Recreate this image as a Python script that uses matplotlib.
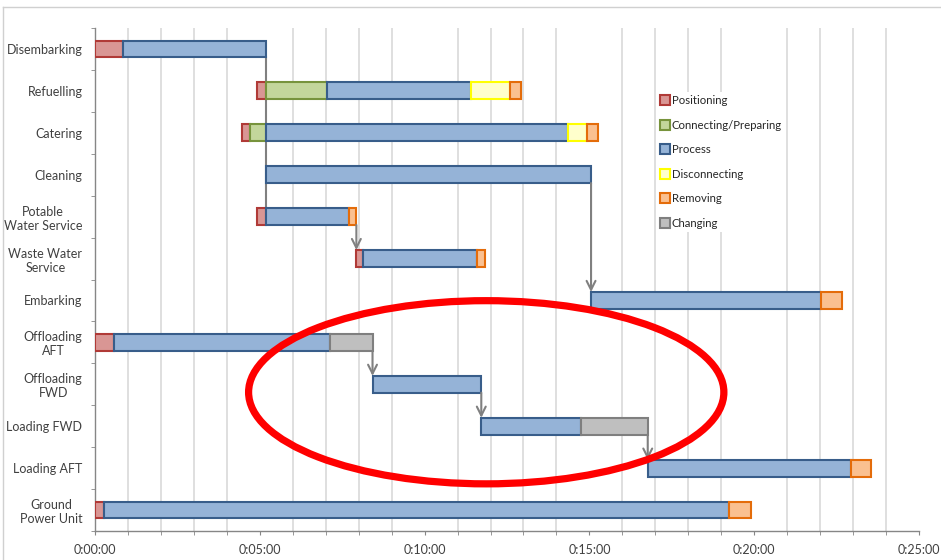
import numpy as np
import matplotlib
matplotlib.use("Agg")
import matplotlib.pyplot as plt
from matplotlib.patches import Ellipse
from matplotlib.lines import Line2D

plt.rcParams['font.family'] = ['Lato', 'DejaVu Sans']

# ---------------- data (minutes) ----------------
categories = ["Disembarking", "Refuelling", "Catering", "Cleaning",
              "Potable\nWater Service", "Waste Water\nService", "Embarking",
              "Offloading\nAFT", "Offloading\nFWD", "Loading FWD",
              "Loading AFT", "Ground\nPower Unit"]

phases = ["Positioning", "Connecting/Preparing", "Process",
          "Disconnecting", "Removing", "Changing"]

nan = np.nan
# start / end of each phase per category
positioning_start = [0.0, 4.92, 4.45, nan, 4.93, 7.93, nan, 0.0, nan, nan, nan, 0.0]
positioning_end   = [0.86, 5.2, 4.69, nan, 5.2, 8.12, nan, 0.57, nan, nan, nan, 0.26]
connecting_start  = [nan, 5.2, 4.69, nan, nan, nan, nan, nan, nan, nan, nan, nan]
connecting_end    = [nan, 7.03, 5.2, nan, nan, nan, nan, nan, nan, nan, nan, nan]
process_start     = [0.86, 7.03, 5.2, 5.2, 5.2, 8.12, 15.05, 0.57, 8.42, 11.72, 16.77, 0.26]
process_end       = [5.2, 11.42, 14.36, 15.05, 7.7, 11.6, 22.04, 7.12, 11.72, 14.75, 22.95, 19.25]
disconnect_start  = [nan, 11.42, 14.36, nan, nan, nan, nan, nan, nan, nan, nan, nan]
disconnect_end    = [nan, 12.6, 14.92, nan, nan, nan, nan, nan, nan, nan, nan, nan]
removing_start    = [nan, 12.6, 14.92, nan, 7.7, 11.6, 22.04, nan, nan, nan, 22.95, 19.25]
removing_end      = [nan, 12.93, 15.27, nan, 7.93, 11.82, 22.65, nan, nan, nan, 23.55, 19.9]
changing_start    = [nan, nan, nan, nan, nan, nan, nan, 7.12, nan, 14.75, nan, nan]
changing_end      = [nan, nan, nan, nan, nan, nan, nan, 8.42, nan, 16.77, nan, nan]

# dependency arrows: (time, from row, to row)
dep_time = [7.93, 15.05, 8.42, 11.72, 16.77]
dep_from = [4, 3, 7, 8, 9]
dep_to   = [5, 6, 8, 9, 10]
# plain connector (no head): disembarking end -> potable water
conn_time = [5.2]
conn_from = [0]
conn_to = [4]

x_ticks_min = [0, 5, 10, 15, 20, 25]
x_tick_labels = ["0:00:00", "0:05:00", "0:10:00", "0:15:00", "0:20:00", "0:25:00"]

# ---------------- styles ----------------
fills = {"Positioning": "#D99694", "Connecting/Preparing": "#C3D69B",
         "Process": "#95B3D7", "Disconnecting": "#FFFFCC",
         "Removing": "#FAC090", "Changing": "#BFBFBF"}
edges = {"Positioning": "#B03A37", "Connecting/Preparing": "#77933C",
         "Process": "#385D8A", "Disconnecting": "#FFFF00",
         "Removing": "#E46C0A", "Changing": "#7F7F7F"}
phase_data = {"Positioning": (positioning_start, positioning_end),
              "Connecting/Preparing": (connecting_start, connecting_end),
              "Process": (process_start, process_end),
              "Disconnecting": (disconnect_start, disconnect_end),
              "Removing": (removing_start, removing_end),
              "Changing": (changing_start, changing_end)}

W, H = 941, 560
fig = plt.figure(figsize=(W / 100, H / 100), dpi=100)
ax = fig.add_axes([95 / W, 29 / H, (919 - 95) / W, (531 - 28) / H])

y = np.arange(len(categories))
bar_h = 0.4
for ph in phases:
    s, e = phase_data[ph]
    s = np.array(s, dtype=float)
    e = np.array(e, dtype=float)
    m = ~np.isnan(s)
    ax.barh(y[m], (e - s)[m], left=s[m], height=bar_h, color=fills[ph],
            edgecolor=edges[ph], linewidth=1.5, zorder=3)

arrow_col = "#808080"
for t, a, b in zip(conn_time, conn_from, conn_to):
    ax.plot([t, t], [a + bar_h / 2, b - bar_h / 2], color=arrow_col, lw=1.5, zorder=2)
for t, a, b in zip(dep_time, dep_from, dep_to):
    ax.annotate("", xy=(t, b - bar_h / 2), xytext=(t, a + bar_h / 2),
                arrowprops=dict(arrowstyle="->", color=arrow_col, lw=1.5,
                                mutation_scale=16, shrinkA=0, shrinkB=0),
                zorder=4)

ax.set_xlim(0, 25)
ax.set_ylim(len(categories) - 0.5, -0.5)

ax.set_xticks(x_ticks_min)
ax.set_xticklabels(x_tick_labels)
ax.set_xticks(np.arange(0, 26, 1), minor=True)
ax.set_yticks(y)
ax.set_yticklabels(categories, multialignment="center")
ax.set_yticks(np.arange(-0.5, len(categories), 1), minor=True)

ax.grid(axis="x", which="minor", color="#D9D9D9", lw=1.2, zorder=0)
ax.set_axisbelow(True)

tick_col = "#404040"
ax.tick_params(axis="y", which="major", length=0, pad=9, labelsize=9, labelcolor=tick_col)
ax.tick_params(axis="y", which="minor", length=3, color="#868686", direction="out")
ax.tick_params(axis="x", which="both", length=3, color="#868686", direction="out",
               pad=6, labelsize=9, labelcolor=tick_col)

for sp in ["top", "right"]:
    ax.spines[sp].set_visible(False)
for sp in ["left", "bottom"]:
    ax.spines[sp].set_color("#868686")
    ax.spines[sp].set_linewidth(1.0)

# legend
handles = [Line2D([0], [0], marker="s", linestyle="none", markersize=6.5,
                  markerfacecolor=fills[p], markeredgecolor=edges[p],
                  markeredgewidth=1.5) for p in phases]
leg = fig.legend(handles, phases, loc="upper left",
                 bbox_to_anchor=(658 / W, 1 - 92 / H), frameon=True,
                 fontsize=8.2, labelspacing=1.18, handlelength=0.6,
                 handletextpad=0.3, borderpad=0.3, borderaxespad=0)
leg.get_frame().set_facecolor("white")
leg.get_frame().set_edgecolor("none")
leg.get_frame().set_alpha(1)
for t in leg.get_texts():
    t.set_color("#262626")

# red highlight ellipse
ax.add_patch(Ellipse((11.87, 8.19), width=14.42, height=4.37, fill=False,
                     edgecolor="#FF0000", lw=5.2, zorder=10, clip_on=False))

# outer chart border
fig.add_artist(Line2D([3 / W, 3 / W], [0, 1 - 7 / H], transform=fig.transFigure,
                      color="#D0D0D0", lw=1))
fig.add_artist(Line2D([3 / W, 1], [1 - 7 / H, 1 - 7 / H], transform=fig.transFigure,
                      color="#D0D0D0", lw=1))

fig.savefig("out.png", dpi=100, facecolor="white")
